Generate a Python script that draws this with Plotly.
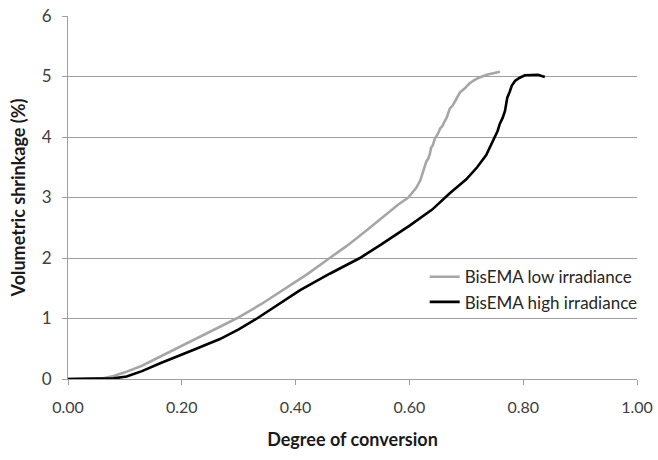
import plotly.graph_objects as go

low_x = [0.0, 0.03, 0.06, 0.08, 0.10, 0.13, 0.162, 0.19, 0.22, 0.26, 0.296, 0.34, 0.378, 0.42, 0.46, 0.49,
         0.525, 0.554, 0.58, 0.598, 0.612, 0.619, 0.625, 0.630, 0.633, 0.636, 0.638, 0.641, 0.645, 0.650,
         0.654, 0.658, 0.662, 0.666, 0.671, 0.676, 0.682, 0.689, 0.697, 0.705, 0.712, 0.722, 0.736, 0.748, 0.759]
low_y = [0.0, 0.0, 0.01, 0.05, 0.11, 0.22, 0.37, 0.5, 0.64, 0.82, 1.0, 1.24, 1.47, 1.73, 2.0, 2.2,
         2.46, 2.68, 2.88, 3.0, 3.16, 3.28, 3.46, 3.6, 3.64, 3.72, 3.82, 3.86, 3.98, 4.05,
         4.14, 4.18, 4.26, 4.33, 4.47, 4.52, 4.62, 4.74, 4.8, 4.88, 4.93, 4.98, 5.03, 5.06, 5.08]

high_x = [0.0, 0.03, 0.06, 0.08, 0.103, 0.13, 0.162, 0.19, 0.22, 0.267, 0.30, 0.332, 0.37, 0.408, 0.46,
          0.513, 0.55, 0.601, 0.64, 0.671, 0.70, 0.719, 0.735, 0.747, 0.755, 0.759, 0.764, 0.768, 0.770,
          0.772, 0.776, 0.780, 0.786, 0.794, 0.803, 0.815, 0.826, 0.838]
high_y = [0.0, 0.0, 0.0, 0.01, 0.04, 0.13, 0.26, 0.36, 0.48, 0.66, 0.82, 1.0, 1.23, 1.47, 1.74,
          2.0, 2.22, 2.54, 2.8, 3.07, 3.3, 3.5, 3.7, 3.94, 4.1, 4.22, 4.32, 4.43, 4.52,
          4.65, 4.74, 4.85, 4.93, 4.98, 5.02, 5.03, 5.03, 4.99]

x_ticks = [0.0, 0.2, 0.4, 0.6, 0.8, 1.0]
x_tick_labels = ["0.00", "0.20", "0.40", "0.60", "0.80", "1.00"]
y_ticks = [0, 1, 2, 3, 4, 5, 6]

font_family = "Lato, 'Open Sans', sans-serif"

fig = go.Figure()
fig.add_trace(go.Scatter(x=low_x, y=low_y, mode="lines", name="BisEMA low irradiance",
                         line=dict(color="#a6a6a6", width=2.6)))
fig.add_trace(go.Scatter(x=high_x, y=high_y, mode="lines", name="BisEMA high irradiance",
                         line=dict(color="#000000", width=2.6)))

fig.update_layout(
    width=658, height=460,
    margin=dict(l=68, r=21, t=16, b=81, autoexpand=False),
    paper_bgcolor="white", plot_bgcolor="white",
    font=dict(family=font_family, size=16, color="#404040"),
    showlegend=True,
    legend=dict(x=1.01, xanchor="right", y=0.33, yanchor="top",
                bgcolor="rgba(255,255,255,0)", font=dict(size=17, color="#262626"),
                tracegroupgap=0, itemwidth=30),
    xaxis=dict(range=[0, 1], tickvals=x_ticks, ticktext=x_tick_labels, automargin=False,
               ticklabeloverflow="allow", ticklabelstandoff=9,
               showgrid=False, zeroline=False, showline=True, linecolor="#a0a0a0", linewidth=1,
               ticks="outside", ticklen=5, tickcolor="#a0a0a0",
               tickfont=dict(size=16, color="#404040"),
               title=dict(text="<b>Degree of conversion</b>", font=dict(size=18, color="#1a1a1a"), standoff=18)),
    yaxis=dict(range=[0, 6], tickvals=y_ticks, automargin=False,
               showgrid=True, gridcolor="#a0a0a0", gridwidth=1, zeroline=False,
               showline=True, linecolor="#a0a0a0", linewidth=1,
               ticks="outside", ticklen=5, tickcolor="#a0a0a0", ticklabelstandoff=7,
               tickfont=dict(size=17, color="#404040"),
               title=dict(text="<b>Volumetric shrinkage (%)</b>", font=dict(size=18, color="#1a1a1a"), standoff=11)),
)

fig.write_html("out.html", config={"displayModeBar": False},
               post_script="document.body.style.margin='0px';")
